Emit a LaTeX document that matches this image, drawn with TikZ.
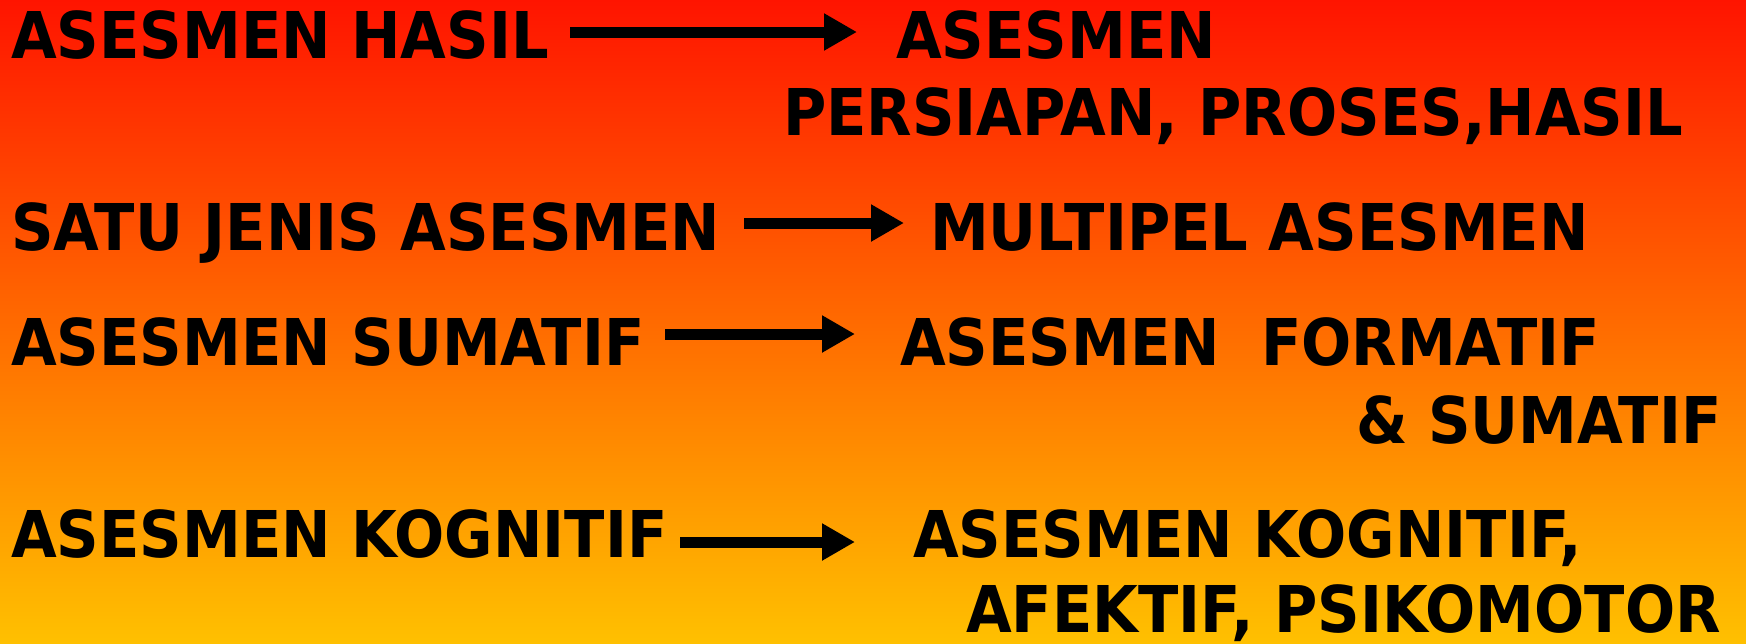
\documentclass[tikz,border=0pt]{standalone}
\usepackage{fontspec}
\newfontfamily\lbl[FakeStretch=0.916]{DejaVu Sans}
\usetikzlibrary{arrows.meta}
\definecolor{bgtop}{RGB}{255,20,0}
\definecolor{bgmid}{RGB}{255,110,0}
\definecolor{bgbot}{RGB}{255,192,0}
\tikzset{
  txt/.style={anchor=base west, inner sep=0pt, font=\lbl\bfseries\fontsize{64.5}{70}\selectfont, text=black},
  arr/.style={line width=11pt, -{Triangle[length=33pt,width=35pt]}, black}
}
\begin{document}
\begin{tikzpicture}[x=1pt,y=-1pt]
  \useasboundingbox (0,0) rectangle (1746,643);
  \clip (0,0) rectangle (1746,643);
  % background gradient
  \shade[top color=bgtop, middle color=bgmid, bottom color=bgbot] (0,0) rectangle (1746,643);

  % left column
  \node[txt] (l1) at (11,58)  {ASESMEN HASIL};
  \node[txt] (l2) at (11,250) {SATU JENIS ASESMEN};
  \node[txt] (l3) at (11,365) {ASESMEN SUMATIF};
  \node[txt] (l4) at (11,557) {ASESMEN KOGNITIF};

  % right column
  \node[txt] (r1)  at (896,58)  {ASESMEN};
  \node[txt] (r1b) at (783,135) {PERSIAPAN, PROSES,HASIL};
  \node[txt] (r2)  at (930,250) {MULTIPEL ASESMEN};
  \node[txt] (r3)  at (900,365) {ASESMEN\ \ FORMATIF};
  \node[txt] (r3b) at (1356,443) {\& SUMATIF};
  \node[txt] (r4)  at (913,557) {ASESMEN KOGNITIF,};
  \node[txt] (r4b) at (966,632) {AFEKTIF, PSIKOMOTOR};

  % arrow ends
  \coordinate (a1s) at (570,32);  \coordinate (a1e) at (857,32);
  \coordinate (a2s) at (744,223); \coordinate (a2e) at (904,223);
  \coordinate (a3s) at (665,334); \coordinate (a3e) at (855,334);
  \coordinate (a4s) at (680,542); \coordinate (a4e) at (855,542);

  \draw[arr] (a1s) -- (a1e);
  \draw[arr] (a2s) -- (a2e);
  \draw[arr] (a3s) -- (a3e);
  \draw[arr] (a4s) -- (a4e);
\end{tikzpicture}
\end{document}
